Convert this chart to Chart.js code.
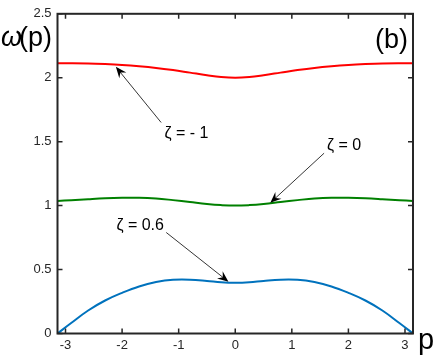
<!DOCTYPE html>
<html>
<head>
<meta charset="utf-8">
<script src="https://cdn.jsdelivr.net/npm/chart.js@4"></script>
<style>
  body { margin: 0; background: #fff; }
  canvas { display: block; }
</style>
</head>
<body>
<canvas id="c" width="436" height="356"></canvas>
<script>
// momentum points and the three dispersion branches
const pValues = [-3.1416, -2.9, -2.6, -2.3, -2.0, -1.7, -1.4, -1.1, -0.8, -0.5, -0.25, 0,
                 0.25, 0.5, 0.8, 1.1, 1.4, 1.7, 2.0, 2.3, 2.6, 2.9, 3.1416];
const omegaNeg1 = [2.114, 2.114, 2.112, 2.107, 2.100, 2.090, 2.077, 2.060, 2.040, 2.020, 2.006, 2.000,
                   2.006, 2.020, 2.040, 2.060, 2.077, 2.090, 2.100, 2.107, 2.112, 2.114, 2.114];
const omegaZero = [1.037, 1.042, 1.050, 1.057, 1.061, 1.062, 1.056, 1.043, 1.028, 1.013, 1.004, 1.000,
                   1.004, 1.013, 1.028, 1.043, 1.056, 1.062, 1.061, 1.057, 1.050, 1.042, 1.037];
const omegaSix = [0.000, 0.082, 0.180, 0.258, 0.318, 0.368, 0.402, 0.420, 0.421, 0.411, 0.400, 0.396,
                  0.400, 0.411, 0.421, 0.420, 0.402, 0.368, 0.318, 0.258, 0.180, 0.082, 0.000];
const xTicks = [-3, -2, -1, 0, 1, 2, 3];
const yTicks = [0, 0.5, 1, 1.5, 2, 2.5];

// labels with arrows: [text, textX, textY, tailX, tailY, headX, headY] in data units
const notes = [
  ["\u03b6 = - 1", -1.25, 1.565, -1.31, 1.65, -2.11, 2.085],
  ["\u03b6 = 0", 1.62, 1.47, 1.57, 1.41, 0.62, 1.022],
  ["\u03b6 = 0.6", -2.1, 0.84, -1.22, 0.79, -0.12, 0.405]
];

const axisColor = "#262626";
const font = "'Liberation Sans', Arial, sans-serif";

function toPts(ys) {
  return pValues.map((p, i) => ({ x: p, y: ys[i] }));
}

function arrow(ctx, x1, y1, x2, y2) {
  const a = Math.atan2(y2 - y1, x2 - x1);
  const len = 11, half = 4.5;
  ctx.strokeStyle = "#000";
  ctx.lineWidth = 0.8;
  ctx.beginPath();
  ctx.moveTo(x1, y1);
  ctx.lineTo(x2 - Math.cos(a) * 6, y2 - Math.sin(a) * 6);
  ctx.stroke();
  const bx = x2 - Math.cos(a) * len, by = y2 - Math.sin(a) * len;
  const nx = x2 - Math.cos(a) * len * 0.65, ny = y2 - Math.sin(a) * len * 0.65;
  ctx.fillStyle = "#000";
  ctx.beginPath();
  ctx.moveTo(x2, y2);
  ctx.lineTo(bx - Math.sin(a) * half, by + Math.cos(a) * half);
  ctx.lineTo(nx, ny);
  ctx.lineTo(bx + Math.sin(a) * half, by - Math.cos(a) * half);
  ctx.closePath();
  ctx.fill();
}

const decor = {
  id: "decor",
  afterDraw(chart) {
    const ctx = chart.ctx;
    const a = chart.chartArea;
    const xs = chart.scales.x, ys = chart.scales.y;
    ctx.save();
    // box
    ctx.strokeStyle = axisColor;
    ctx.lineWidth = 2;
    ctx.strokeRect(a.left, a.top, a.right - a.left, a.bottom - a.top);
    // inward ticks on all four sides
    ctx.lineWidth = 1.5;
    ctx.beginPath();
    xTicks.forEach(t => {
      const px = xs.getPixelForValue(t);
      ctx.moveTo(px, a.bottom); ctx.lineTo(px, a.bottom - 5);
      ctx.moveTo(px, a.top); ctx.lineTo(px, a.top + 5);
    });
    yTicks.forEach(t => {
      const py = ys.getPixelForValue(t);
      ctx.moveTo(a.left, py); ctx.lineTo(a.left + 5, py);
      ctx.moveTo(a.right, py); ctx.lineTo(a.right - 5, py);
    });
    ctx.stroke();

    // arrows and labels
    ctx.font = "16px " + font;
    ctx.textBaseline = "middle";
    ctx.textAlign = "left";
    notes.forEach(n => {
      arrow(ctx, xs.getPixelForValue(n[3]), ys.getPixelForValue(n[4]),
                 xs.getPixelForValue(n[5]), ys.getPixelForValue(n[6]));
      ctx.fillStyle = "#000";
      ctx.fillText(n[0], xs.getPixelForValue(n[1]), ys.getPixelForValue(n[2]));
    });

    // panel mark and axis names
    ctx.fillStyle = "#000";
    ctx.textBaseline = "alphabetic";
    ctx.font = "27px " + font;
    ctx.textAlign = "right";
    ctx.fillText("(b)", a.right - 5, a.top + 34);
    ctx.font = "italic 27px " + font;
    ctx.textAlign = "left";
    ctx.fillText("\u03c9", 1, 46);
    ctx.font = "27px " + font;
    ctx.fillText("(p)", 19, 46);
    ctx.font = "29px " + font;
    ctx.fillText("p", a.right + 5, a.bottom + 15);
    ctx.restore();
  }
};

new Chart(document.getElementById("c").getContext("2d"), {
  type: "line",
  data: {
    datasets: [
      { data: toPts(omegaNeg1), borderColor: "#ff0000" },
      { data: toPts(omegaZero), borderColor: "#008000" },
      { data: toPts(omegaSix), borderColor: "#0072bd" }
    ]
  },
  options: {
    responsive: false,
    animation: false,
    layout: { padding: { top: 5, right: 23, left: 0, bottom: 0 } },
    elements: {
      point: { radius: 0 },
      line: { borderWidth: 2, tension: 0.4, fill: false }
    },
    scales: {
      x: {
        type: "linear",
        min: -Math.PI,
        max: Math.PI,
        afterBuildTicks: s => { s.ticks = xTicks.map(v => ({ value: v })); },
        afterFit: s => { s.height = 22.5; },
        grid: { display: false, drawTicks: false },
        border: { display: false },
        ticks: { color: axisColor, padding: 4, font: { size: 13, family: font }, maxRotation: 0,
                 callback: v => String(v) }
      },
      y: {
        min: 0,
        max: 2.5,
        afterBuildTicks: s => { s.ticks = yTicks.map(v => ({ value: v })); },
        afterFit: s => { s.width = 57.5; },
        grid: { display: false, drawTicks: false },
        border: { display: false },
        ticks: { color: axisColor, padding: 6, font: { size: 13, family: font },
                 callback: v => String(v) }
      }
    },
    plugins: { legend: { display: false }, tooltip: { enabled: false } }
  },
  plugins: [decor]
});
</script>
</body>
</html>
